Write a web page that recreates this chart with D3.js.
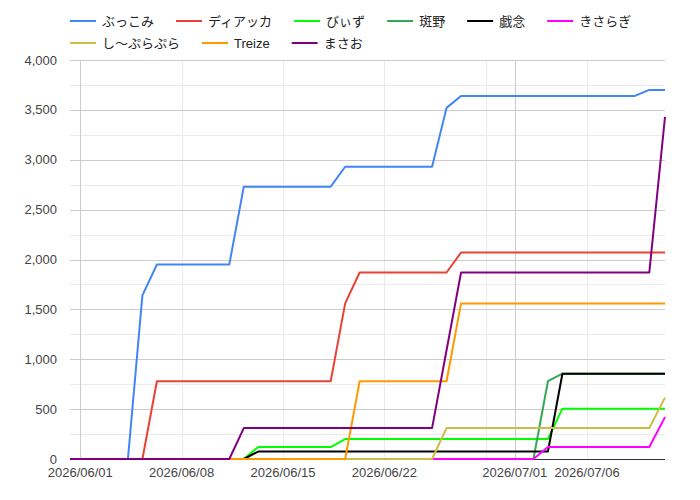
<!DOCTYPE html>
<html><head><meta charset="utf-8">
<script src="https://cdn.jsdelivr.net/npm/d3@7"></script>
<style>body{margin:0;background:#fff}svg{display:block;font-family:"Liberation Sans",Arial,"Noto Sans CJK JP",sans-serif}</style>
</head><body><svg id="c" width="700" height="500"></svg>
<script>
const dates = ["2026-05-31T07:00Z","2026-06-01T07:00Z","2026-06-02T07:00Z","2026-06-03T07:00Z","2026-06-04T07:00Z","2026-06-05T07:00Z","2026-06-06T07:00Z","2026-06-07T07:00Z","2026-06-08T07:00Z","2026-06-09T07:00Z","2026-06-10T07:00Z","2026-06-11T07:00Z","2026-06-12T07:00Z","2026-06-13T07:00Z","2026-06-14T07:00Z","2026-06-15T07:00Z","2026-06-16T07:00Z","2026-06-17T07:00Z","2026-06-18T07:00Z","2026-06-19T07:00Z","2026-06-20T07:00Z","2026-06-21T07:00Z","2026-06-22T07:00Z","2026-06-23T07:00Z","2026-06-24T07:00Z","2026-06-25T07:00Z","2026-06-26T07:00Z","2026-06-27T07:00Z","2026-06-28T07:00Z","2026-06-29T07:00Z","2026-06-30T07:00Z","2026-07-01T07:00Z","2026-07-02T07:00Z","2026-07-03T07:00Z","2026-07-04T07:00Z","2026-07-05T07:00Z","2026-07-06T07:00Z","2026-07-07T07:00Z","2026-07-08T07:00Z","2026-07-09T07:00Z","2026-07-10T07:00Z","2026-07-11T09:00Z"];
const seriesNames = ["ぶっこみ","ディアッカ","びぃず","斑野","戯念","きさらぎ","し〜ぷらぷら","Treize","まさお"];
const seriesColors = ["#4285F4","#EA4335","#00FF00","#34A853","#000000","#FF00FF","#CDBC45","#FF9900","#800080"];
const buccomi = [0,0,0,0,0,1640,1950,1950,1950,1950,1950,1950,2730,2730,2730,2730,2730,2730,2730,2930,2930,2930,2930,2930,2930,2930,3520,3640,3640,3640,3640,3640,3640,3640,3640,3640,3640,3640,3640,3640,3700,3700];
const diakka = [0,0,0,0,0,0,780,780,780,780,780,780,780,780,780,780,780,780,780,1560,1870,1870,1870,1870,1870,1870,1870,2070,2070,2070,2070,2070,2070,2070,2070,2070,2070,2070,2070,2070,2070,2070];
const biizu = [0,0,0,0,0,0,0,0,0,0,0,0,0,120,120,120,120,120,120,200,200,200,200,200,200,200,200,200,200,200,200,200,200,200,505,505,505,505,505,505,505,505];
const madarano = [0,0,0,0,0,0,0,0,0,0,0,0,0,0,0,0,0,0,0,0,0,0,0,0,0,0,0,0,0,0,0,0,0,780,855,855,855,855,855,855,855,855];
const zanen = [0,0,0,0,0,0,0,0,0,0,0,0,0,75,75,75,75,75,75,75,75,75,75,75,75,75,75,75,75,75,75,75,75,75,855,855,855,855,855,855,855,855];
const kisaragi = [0,0,0,0,0,0,0,0,0,0,0,0,0,0,0,0,0,0,0,0,0,0,0,0,0,0,0,0,0,0,0,0,0,120,120,120,120,120,120,120,120,420];
const shipura = [0,0,0,0,0,0,0,0,0,0,0,0,0,0,0,0,0,0,0,0,0,0,0,0,0,0,310,310,310,310,310,310,310,310,310,310,310,310,310,310,310,615];
const treize = [0,0,0,0,0,0,0,0,0,0,0,0,0,0,0,0,0,0,0,0,780,780,780,780,780,780,780,1560,1560,1560,1560,1560,1560,1560,1560,1560,1560,1560,1560,1560,1560,1560];
const masao = [0,0,0,0,0,0,0,0,0,0,0,0,310,310,310,310,310,310,310,310,310,310,310,310,310,310,1090,1870,1870,1870,1870,1870,1870,1870,1870,1870,1870,1870,1870,1870,1870,3430];
const seriesValues = [buccomi,diakka,biizu,madarano,zanen,kisaragi,shipura,treize,masao];
const yTicks = [0,500,1000,1500,2000,2500,3000,3500,4000];
const yMinor = [250,750,1250,1750,2250,2750,3250,3750];
const xLabelDates = ["2026-06-01","2026-06-08","2026-06-15","2026-06-22","2026-07-01","2026-07-06"];
const xWeekGrid = ["2026-06-01","2026-06-08","2026-06-15","2026-06-22","2026-06-29","2026-07-06"];
const xMonthGrid = ["2026-06-01","2026-07-01"];

const svg = d3.select("#c");
const L = 70, R = 665, T = 60, B = 459;
const parsed = dates.map(d => new Date(d));
const x = d3.scaleUtc().domain(d3.extent(parsed)).range([L, R]);
const y = d3.scaleLinear().domain([0, 4000]).range([B, T]);
const pd = s => new Date(s + "T00:00Z");

const g = svg.append("g");
g.selectAll(".ym").data(yMinor).join("line").attr("x1", L).attr("x2", R)
  .attr("y1", d => Math.round(y(d)) + 0.5).attr("y2", d => Math.round(y(d)) + 0.5)
  .attr("stroke", "#ebebeb");
g.selectAll(".xw").data(xWeekGrid).join("line")
  .attr("x1", d => Math.round(x(pd(d))) + 0.5).attr("x2", d => Math.round(x(pd(d))) + 0.5)
  .attr("y1", T).attr("y2", B).attr("stroke", "#ebebeb");
g.selectAll(".yM").data(yTicks.filter(d => d > 0)).join("line").attr("x1", L).attr("x2", R)
  .attr("y1", d => Math.round(y(d)) + 0.5).attr("y2", d => Math.round(y(d)) + 0.5)
  .attr("stroke", "#cccccc");
g.selectAll(".xm").data(xMonthGrid).join("line")
  .attr("x1", d => Math.round(x(pd(d))) + 0.5).attr("x2", d => Math.round(x(pd(d))) + 0.5)
  .attr("y1", T).attr("y2", B).attr("stroke", "#cccccc");

// baseline
svg.append("line").attr("x1", L).attr("x2", R).attr("y1", Math.round(y(0)) + 0.5).attr("y2", Math.round(y(0)) + 0.5)
  .attr("stroke", "#333");

const fmt = d3.format(",");
svg.append("g").selectAll("text").data(yTicks).join("text")
  .attr("x", 57).attr("y", d => y(d) + 4.5).attr("text-anchor", "end")
  .attr("font-size", 13).attr("fill", "#444").text(d => fmt(d));
svg.append("g").selectAll("text").data(xLabelDates).join("text")
  .attr("x", d => x(pd(d))).attr("y", 477).attr("text-anchor", "middle")
  .attr("font-size", 13).attr("fill", "#444").text(d => d.replace(/-/g, "/"));

const line = d3.line().x((d, i) => x(parsed[i])).y(d => y(d));
svg.append("g").selectAll("path").data(seriesValues).join("path")
  .attr("d", d => line(d)).attr("fill", "none")
  .attr("stroke", (d, i) => seriesColors[i]).attr("stroke-width", 2)
  .attr("stroke-linejoin", "round");

const lg = svg.append("g");
let lx = 70, row = 0;
const rowY = [21, 43];
seriesNames.forEach((name, i) => {
  const t = lg.append("text").attr("font-size", 13).attr("fill", "#222").text(name);
  const w = t.node().getComputedTextLength();
  if (lx + 32 + w > 665) { row++; lx = 70; }
  lg.append("line").attr("x1", lx).attr("x2", lx + 26).attr("y1", rowY[row]).attr("y2", rowY[row])
    .attr("stroke", seriesColors[i]).attr("stroke-width", 2);
  t.attr("x", lx + 32).attr("y", rowY[row] + 4.5);
  lx += 32 + w + 22;
});
</script></body></html>
